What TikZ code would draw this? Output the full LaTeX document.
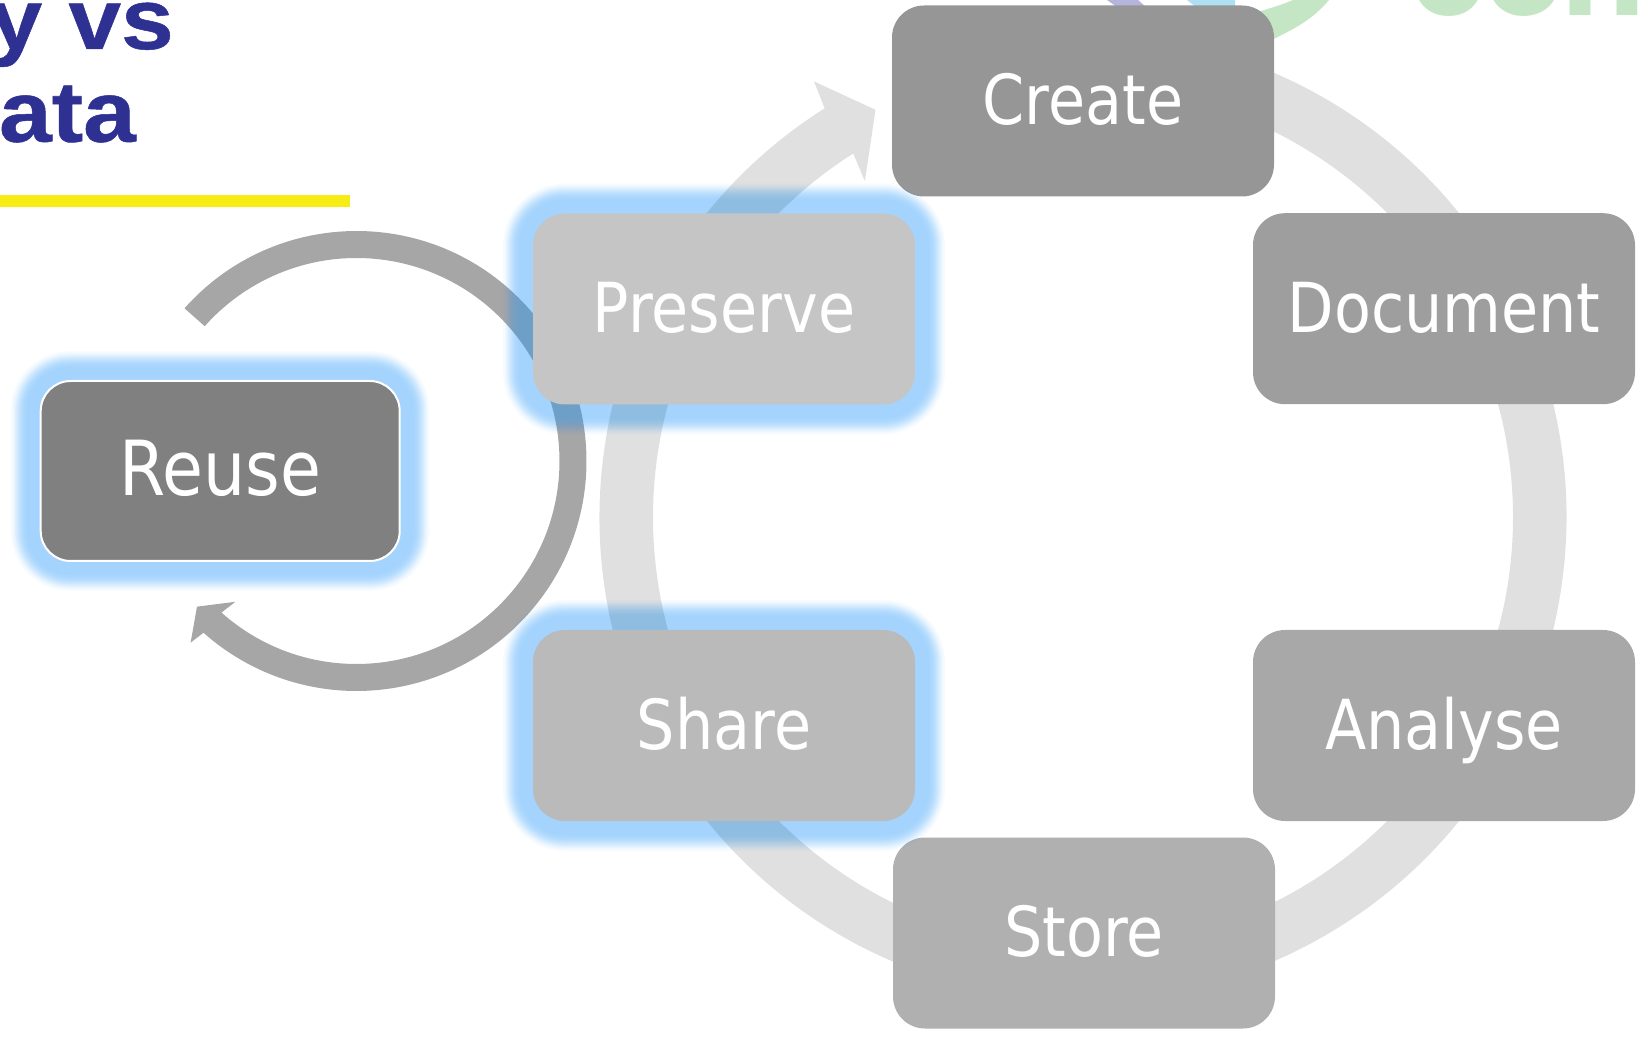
\documentclass[tikz,border=0pt]{standalone}
\usepackage{fontspec}
\usetikzlibrary{backgrounds}
\newfontfamily\boxfont[FakeStretch=0.875]{DejaVu Sans}
\newfontfamily\titlefont[BoldFeatures={FakeStretch=1.1,FakeBold=0.6}]{Liberation Sans}
\newfontfamily\logofont{Poppins}
\definecolor{titleblue}{HTML}{2E3192}
\definecolor{ruleyellow}{HTML}{F7EC13}
\definecolor{ringgray}{HTML}{E0E0E0}
\definecolor{arcgray}{HTML}{A6A6A6}
\definecolor{glowblue}{RGB}{54,159,250}
\definecolor{logogreen}{HTML}{C5E6C5}
\definecolor{logoblue}{HTML}{AEDFF2}
\definecolor{logopurple}{HTML}{B4B4DC}
\definecolor{reusegray}{HTML}{808080}
\definecolor{boxA}{RGB}{150,150,150}
\definecolor{boxB}{RGB}{158,158,158}
\definecolor{boxC}{RGB}{168,168,168}
\definecolor{boxD}{RGB}{176,176,176}
\definecolor{boxE}{RGB}{186,186,186}
\definecolor{boxF}{RGB}{197,197,197}
\pgfdeclarelayer{under}
\pgfdeclarelayer{glowlayer}
\pgfsetlayers{under,glowlayer,main}
\tikzset{
  x=1pt,y=1pt,
  stage/.style={rectangle,rounded corners=32pt,minimum width=382pt,minimum height=191pt,inner sep=0pt,
    text=white,text height=47.4pt,text depth=0pt,font=\boxfont\fontsize{69}{69}\selectfont},
  reuse/.style={stage,rounded corners=30pt,minimum width=359pt,minimum height=180pt,draw=white,line width=2pt,fill=reusegray,text height=50pt,font=\boxfont\fontsize{76}{76}\selectfont},
  titletext/.style={anchor=base east,inner sep=0pt,text=titleblue,font=\titlefont\bfseries\fontsize{86}{86}\selectfont},
  glowlayerstyle/.style={fill=glowblue,opacity=0.0375},
}
% #1 node, #2 offset of the glow, #3 corner radius of the node
\newcommand{\glowaround}[3]{%
  \begin{pgfonlayer}{glowlayer}
  \foreach \d in {29.7,28.0,26.7,25.6,24.7,23.8,23.0,22.0,21.1,20.3,19.4,18.4,17.3,16.0,14.3}{%
    \pgfmathsetmacro{\gd}{#2+\d}
    \pgfmathsetmacro{\gr}{#3+\gd}
    \fill[glowlayerstyle,rounded corners=\gr pt]
      ([xshift=-\gd pt,yshift=-\gd pt]#1.south west) rectangle ([xshift=\gd pt,yshift=\gd pt]#1.north east);
  }
  \end{pgfonlayer}}
\begin{document}
\begin{tikzpicture}
\useasboundingbox (0,0) rectangle (1652,1037);
\clip (0,0) rectangle (1652,1037);

% title fragments and rule
\node[titletext] (titleA) at (174,988) {y vs};
\node[titletext] (titleB) at (136,895.3) {ata};
\fill[ruleyellow] (0,829.7) rectangle (350,842);

\begin{pgfonlayer}{under}
% logo fragments
\fill[logopurple] (1107,1037) -- (1138,1037) -- (1146,1030) -- (1117,1030) -- cycle;
\fill[logoblue] (1187,1037) -- (1235,1037) -- (1235,1030) -- (1196,1030) -- cycle;
\fill[logogreen] (1329,1037) .. controls (1315,1020) and (1297,1008) .. (1260,992) -- (1255,1024) .. controls (1270,1029) and (1282,1032) .. (1293,1037) -- cycle;
\node[anchor=base west,inner sep=0pt,text=logogreen,font=\logofont\bfseries\fontsize{122}{122}\selectfont] (logotext) at (1411,1021) {cone};

% ring and its arrow
\coordinate (ringc) at (1083,520);
\begin{scope}[shift={(ringc)}]
\fill[ringgray] (122.3:483.5) arc[start angle=122.3,end angle=450,radius=483.5]
  -- (90:430) arc[start angle=450,end angle=122.3,radius=430]
  -- (123:400.5) -- (117:457) -- (121.7:512) -- cycle;
\end{scope}

% reuse loop
\coordinate (loopc) at (356.5,576);
\begin{scope}[shift={(loopc)}]
\fill[arcgray] (138.4:230) arc[start angle=138.4,end angle=-131.7,radius=230]
  -- (227.6:246) -- (222.4:216) -- (229.3:185.7) -- (228.3:203)
  arc[start angle=-131.7,end angle=138.4,radius=203] -- cycle;
\end{scope}

\node[stage,fill=boxA] (create) at (1083,936) {Create};
\node[stage,fill=boxB] (document) at (1444,728.3) {Document};
\node[stage,fill=boxC] (analyse) at (1444,311.5) {Analyse};
\node[stage,fill=boxD] (store) at (1084,104) {Store};
\end{pgfonlayer}

\node[stage,fill=boxE] (share) at (724,311.5) {Share};
\node[stage,fill=boxF] (preserve) at (724,728) {Preserve};
\node[reuse] (reusebox) at (220.2,566) {Reuse};
\glowaround{share}{0}{32}
\glowaround{preserve}{0}{32}
\glowaround{reusebox}{-1}{30}
\end{tikzpicture}
\end{document}
